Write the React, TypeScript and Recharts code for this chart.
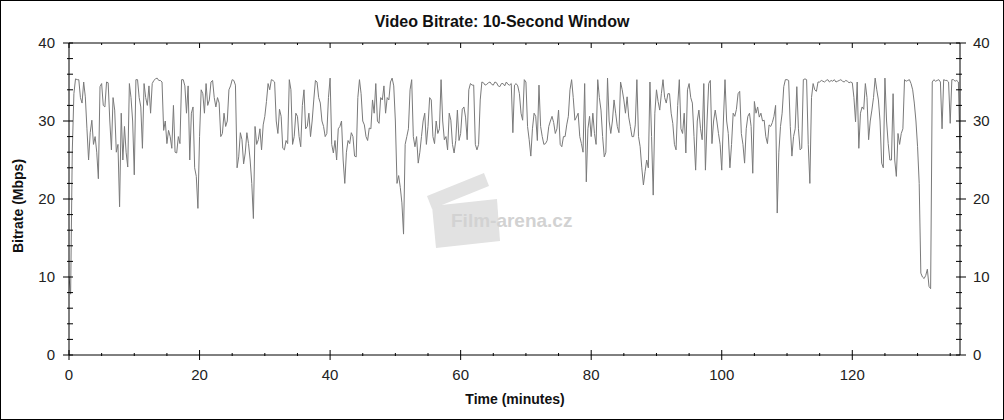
import { LineChart, Line, XAxis, YAxis } from "recharts";

// bitrate (Mbps) read every quarter minute
const part1 = [
  10, 7.8, 26, 33.5, 35.4, 35.3, 35.3, 33, 32.3, 35,
  33.1, 29, 25, 28.5, 30.1, 27, 28, 26, 22.6, 34.4,
  34.8, 32, 31.8, 35, 34.9, 30, 26.3, 33, 31.4, 26,
  27, 19, 31, 25, 29.3, 26, 24.1, 34.8, 33, 30,
  23.1, 35.3, 35.3, 33, 31.8, 26.5, 34.8, 33, 32, 34.5,
  31, 34.8, 35.2, 35.4, 35.5, 35.2, 35.2, 35, 28.8, 30,
  27.1, 28.8, 28, 26.5, 32, 26, 25.9, 28, 27.1, 35.3,
  35.3, 34.5, 31, 34.5, 25, 31, 31.8, 24, 22.9, 18.8,
  28, 34, 33.5, 31, 34.8, 32, 32.7, 35, 35.2, 33,
];
const part2 = [
  31.8, 33, 32.3, 28, 28.4, 31, 29.3, 30, 34, 34.5,
  35.3, 35.2, 34.6, 24, 25.4, 28.5, 27.6, 24.5, 25.9, 28.5,
  27.1, 25, 22, 17.5, 29.3, 27, 27.6, 29, 26.3, 29.5,
  30.6, 32.5, 34.8, 34, 35.3, 35.2, 35, 30, 28.4, 31.5,
  30.6, 26.5, 26.3, 27.5, 27.1, 35.3, 34, 27, 28, 31,
  30.6, 28, 26.7, 32, 34, 29, 29.3, 31, 28, 30,
  32.7, 35.2, 35, 33, 32.3, 30, 29.3, 28, 28.4, 33,
  35.5, 27, 25.9, 27.5, 25, 29, 29.3, 30, 25, 22,
  26, 27.5, 27.1, 28.5, 28, 25.5, 25.4, 33, 35.3, 33.5,
];
const part3 = [
  30, 29.5, 28, 27.5, 29.1, 29, 32.7, 31, 34.8, 30,
  29.7, 33, 32.7, 34.5, 31, 33, 32.7, 35, 35.5, 34.5,
  30, 22, 23, 21.5, 19.5, 15.5, 27, 28, 29, 34,
  35.3, 28, 26.7, 28, 24.6, 26, 28, 30, 31, 27,
  29.3, 33, 32.7, 28, 27.1, 30, 28.4, 29, 35.3, 30,
  27.6, 28, 26.3, 31, 30.1, 27, 25.9, 27.5, 31.4, 27.5,
  28.4, 31.5, 31.8, 30.5, 27.6, 34, 34.8, 34.6, 34.6, 27,
  26.3, 27, 32.7, 35,
  34.9, 34.6, 34.7, 34.9, 35, 34.7, 34.6, 35, 34.9, 34.5,
  34.4, 34.8, 34.8, 34.5, 35, 34.7, 34.6, 34.8,
];
const part4 = [
  28.5, 34.6, 34.8, 34.5, 33.5, 31, 30.1, 35.3, 35, 29.3,
  27.6, 25.5, 29, 31, 30.6, 27.5, 34.6, 29.3, 28, 27,
  27.1, 27.5, 29.3, 30, 30.6, 29.8, 28.4, 29, 31.4, 27,
  26.7, 28, 28, 29.5, 30.6, 34, 35.3, 33, 30.1, 30.5,
  31, 28, 27.1, 26, 34.8, 22.2, 29, 30.6, 28, 31,
  28.4, 27, 35.3, 33, 31.4, 28, 25.4, 26, 35.5, 30,
  28.4, 30, 32.7, 31, 29.3, 28.5, 35, 34, 32.7, 31,
  33.1, 30.5, 29.3, 28, 28, 29.5, 35.3, 28, 26.7, 24,
  21.8, 23.5, 25, 24, 35, 28, 20.5, 31, 34, 32.5,
];
const part5 = [
  31.4, 33.5, 35.3, 33, 32.3, 33.5, 33.5, 31, 29.7, 27,
  26.3, 32, 35.3, 29, 28.4, 31, 25.9, 34, 34.8, 33,
  32.3, 28, 23.7, 30, 31.4, 29, 27.6, 34.8, 23.7, 30,
  34.8, 35.2, 27.1, 30, 31.4, 30, 28.4, 27, 23.7, 30,
  35.3, 30, 28.4, 24, 27, 31, 30.6, 31.5, 33.5, 33.8,
  28.4, 27, 24.6, 29, 30.6, 31, 29.3, 23.3, 32.5, 31,
  31.8, 30.5, 31, 30, 30.1, 28, 27.1, 29.5, 29.3, 29.8,
  30.6, 32, 18.2, 26, 29.3, 31, 34.4, 35.3, 35.3, 35.2,
  29.3, 25.5, 28, 29, 34.4, 29, 26.3, 26.5, 35.3, 35.4,
  35.3, 27,
];
const part6 = [
  22, 33, 34.8, 34, 33.8, 35, 35,
  35.2, 35.1, 35, 35.2, 35.3, 35, 35.2, 35.1, 35.3, 35,
  35.1, 35.2, 35.3, 35.1, 35, 35.2, 35.1, 34.9, 35,
  34.9, 33, 29.9, 35, 26.5, 31, 31.8, 31.5, 34.8, 33,
  27.6, 30, 31.4, 33, 35.5, 34, 32.7, 30, 24.6, 24,
  35.5, 30, 27.1, 25, 25, 33.5, 25, 22.9, 28.4, 27,
  28.4, 29, 35.3, 35.1, 35.2, 35.3, 34.8, 34, 32.3, 30,
  26.7, 22, 10.5, 10, 9.8, 10.2, 11, 8.8, 8.5, 35,
  35.3, 35.1, 35.2, 35.3, 35, 29, 35.3, 35.2, 35.2, 35,
  29.7, 35.3, 35.3, 35.1, 35.2, 35, 26.3,
];

const bitrate = [...part1, ...part2, ...part3, ...part4, ...part5, ...part6];
const STEP = 0.25; // minutes between samples
const data = bitrate.map((v, i) => ({ t: i * STEP, v }));

const xTicks = Array.from({ length: 28 }, (_, i) => i * 5);
const yTicks = Array.from({ length: 21 }, (_, i) => i * 2);

const FONT = "'Liberation Sans', Arial, sans-serif";

const LeftTick = ({ x, y, payload }: any) => {
  const major = payload.value % 10 === 0;
  return (
    <g>
      <line x1={major ? x - 6 : x - 2} x2={x + 4} y1={y} y2={y} stroke="#000" />
      {major && (
        <text x={x - 14} y={y + 5} textAnchor="end" fontSize={15} fill="#222" fontFamily={FONT}>
          {payload.value}
        </text>
      )}
    </g>
  );
};

const RightTick = ({ x, y, payload }: any) => {
  const major = payload.value % 10 === 0;
  return (
    <g>
      <line x1={major ? x + 6 : x + 2} x2={x - 4} y1={y} y2={y} stroke="#000" />
      {major && (
        <text x={x + 13} y={y + 5} textAnchor="start" fontSize={15} fill="#222" fontFamily={FONT}>
          {payload.value}
        </text>
      )}
    </g>
  );
};

const BottomTick = ({ x, y, payload }: any) => {
  const major = payload.value % 20 === 0;
  return (
    <g>
      <line x1={x} x2={x} y1={major ? y - 5 : y - 2} y2={major ? y + 5 : y + 1} stroke="#000" />
      {major && (
        <text x={x} y={y + 25} textAnchor="middle" fontSize={15} fill="#222" fontFamily={FONT}>
          {payload.value}
        </text>
      )}
    </g>
  );
};

const TopTick = ({ x, y, payload }: any) => {
  const major = payload.value % 20 === 0;
  return <line x1={x} x2={x} y1={y} y2={major ? y + 5 : y + 2} stroke="#000" />;
};

export default function App() {
  return (
    <div style={{ position: "absolute", left: 0, top: 0, width: 1004, height: 420, background: "#fff" }}>
      <svg width={1004} height={420} style={{ position: "absolute", left: 0, top: 0 }}>
        <rect x={0.5} y={0.5} width={1003} height={419} fill="none" stroke="#000" />
        <text x={502} y={27} textAnchor="middle" fontSize={16} fontWeight="bold" fill="#111" fontFamily={FONT}>
          Video Bitrate: 10-Second Window
        </text>
        <text x={515} y={404} textAnchor="middle" fontSize={14} fontWeight="bold" fill="#111" fontFamily={FONT}>
          Time (minutes)
        </text>
        <text
          x={23}
          y={206}
          transform="rotate(-90 23 206)"
          textAnchor="middle"
          fontSize={14}
          fontWeight="bold"
          fill="#111"
          fontFamily={FONT}
        >
          Bitrate (Mbps)
        </text>
        {/* watermark */}
        <g fill="#e2e2e2">
          <polygon points="432,206 497,199 500,241 436,248" />
          <polygon points="427,196 484,173 489,186 432,209" />
        </g>
        <text x={451} y={227} fontSize={19} fontWeight="bold" fill="#d2d2d2" fontFamily={FONT}>
          Film-arena.cz
        </text>
      </svg>
      <div style={{ position: "absolute", left: 0, top: 0 }}>
        <LineChart width={1004} height={420} data={data} margin={{ top: 41, right: 4, bottom: 35, left: 29 }}>
          <XAxis
            dataKey="t"
            type="number"
            domain={[0, 136.5]}
            ticks={xTicks}
            interval={0}
            tick={BottomTick}
            tickLine={false}
            tickSize={0}
            tickMargin={0}
            height={30}
            axisLine={{ stroke: "#000" }}
            allowDataOverflow
          />
          <XAxis
            xAxisId="top"
            dataKey="t"
            orientation="top"
            type="number"
            domain={[0, 136.5]}
            ticks={xTicks}
            interval={0}
            tick={TopTick}
            tickLine={false}
            tickSize={0}
            tickMargin={0}
            height={2}
            axisLine={{ stroke: "#000" }}
            allowDataOverflow
          />
          <YAxis
            yAxisId="left"
            type="number"
            domain={[0, 40]}
            ticks={yTicks}
            interval={0}
            tick={LeftTick}
            tickLine={false}
            tickSize={0}
            tickMargin={0}
            width={40}
            axisLine={{ stroke: "#000" }}
          />
          <YAxis
            yAxisId="right"
            orientation="right"
            type="number"
            domain={[0, 40]}
            ticks={yTicks}
            interval={0}
            tick={RightTick}
            tickLine={false}
            tickSize={0}
            tickMargin={0}
            width={40}
            axisLine={{ stroke: "#000" }}
          />
          <Line
            xAxisId="top"
            yAxisId="right"
            dataKey="v"
            stroke="#808080"
            strokeOpacity={0}
            dot={false}
            activeDot={false}
            isAnimationActive={false}
          />
          <Line
            yAxisId="left"
            dataKey="v"
            type="linear"
            stroke="#7a7a7a"
            strokeWidth={1}
            dot={false}
            isAnimationActive={false}
          />
        </LineChart>
      </div>
    </div>
  );
}
